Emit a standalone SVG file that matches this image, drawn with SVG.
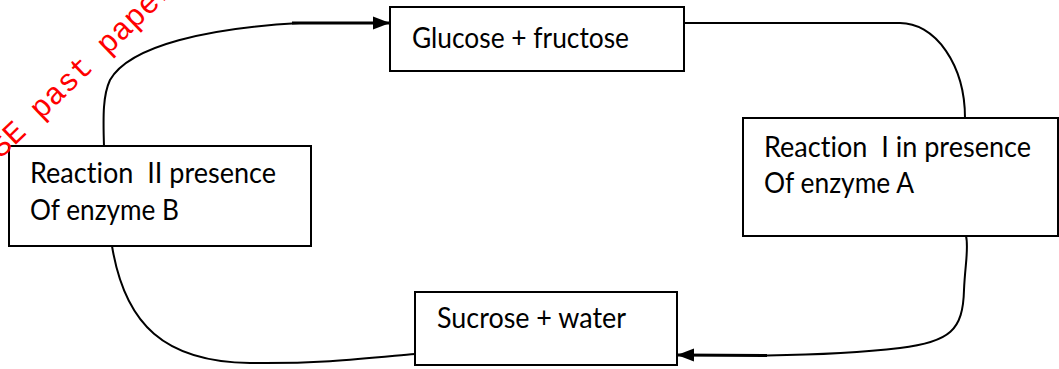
<svg xmlns="http://www.w3.org/2000/svg" width="1059" height="369" viewBox="0 0 1059 369">
  <style>
    .box { fill: #ffffff; stroke: #000000; stroke-width: 2; }
    .lbl { font-family: Lato, "Open Sans", "Liberation Sans", sans-serif; font-size: 29px; fill: #000000; white-space: pre; font-variant-ligatures: none; }
    .conn { fill: none; stroke: #000000; stroke-width: 2; }
    .thick { fill: none; stroke: #000000; stroke-width: 3; }
    .wm { font-family: "Liberation Mono", "Courier New", monospace; font-size: 31px; fill: #ff0000; }
  </style>
  <defs>
    <marker id="arrow" markerUnits="userSpaceOnUse" markerWidth="18" markerHeight="14" refX="17" refY="7" orient="auto">
      <path d="M0,0.5 L17,7 L0,13.5 z" fill="#000000"/>
    </marker>
  </defs>
  <rect width="1059" height="369" fill="#ffffff"/>

  <g id="connectors">
    <path class="conn" d="M104,146 C103,115 103,95 110,80 C130,45 210,28 300,23"/>
    <path class="thick" d="M292,23 L390,23" marker-end="url(#arrow)"/>
    <path class="conn" d="M684,23 L900,23 A65,95 0 0 1 965,118"/>
    <path class="conn" d="M966,236 C969,248 965,265 964,290 C963,330 950,342 900,348 C850,354 800,355 767,355.5"/>
    <path class="thick" d="M767,355.5 L677,355" marker-end="url(#arrow)"/>
    <path class="conn" d="M112,246 C125,325 165,362 250,363 C320,364 370,358 415,354"/>
  </g>

  <g id="node-glucose">
    <rect class="box" x="390" y="7" width="294" height="64"/>
    <text class="lbl" x="412" y="48" textLength="217" lengthAdjust="spacingAndGlyphs">Glucose + fructose</text>
  </g>

  <g id="node-reaction1">
    <rect class="box" x="743" y="118" width="315" height="118"/>
    <text class="lbl" x="764" y="157" textLength="267" lengthAdjust="spacingAndGlyphs">Reaction  I in presence</text>
    <text class="lbl" x="764" y="193" textLength="150" lengthAdjust="spacingAndGlyphs">Of enzyme A</text>
  </g>

  <g id="node-reaction2">
    <rect class="box" x="9" y="146" width="302" height="100"/>
    <text class="lbl" x="30" y="183" textLength="246" lengthAdjust="spacingAndGlyphs">Reaction  II presence</text>
    <text class="lbl" x="30" y="220" textLength="149" lengthAdjust="spacingAndGlyphs">Of enzyme B</text>
  </g>

  <g id="node-sucrose">
    <rect class="box" x="415" y="292" width="262" height="73"/>
    <text class="lbl" x="437" y="328" textLength="189" lengthAdjust="spacingAndGlyphs">Sucrose + water</text>
  </g>

  <text class="wm" x="-26" y="185" transform="rotate(-44 -26 185)">KCSE past papers</text>
</svg>
